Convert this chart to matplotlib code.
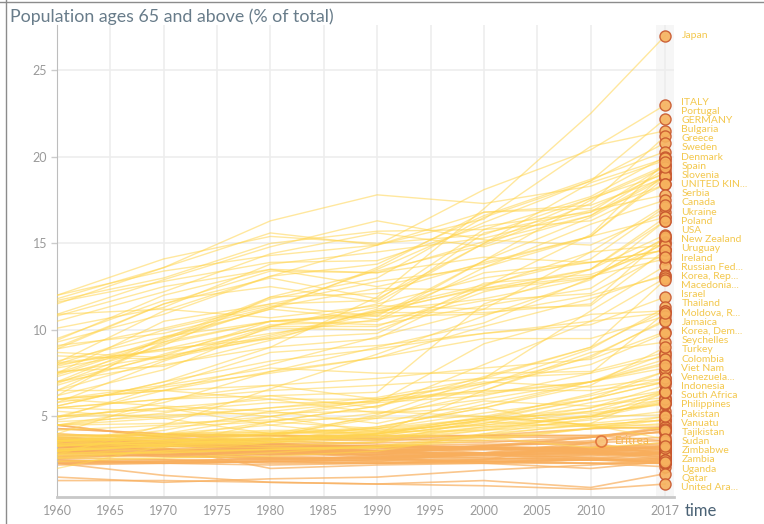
import matplotlib.pyplot as plt
from matplotlib.lines import Line2D

plt.rcParams['font.family'] = ['Lato', 'DejaVu Sans']

# share of population aged 65+ (% of total), read at these years
years = [1960, 1970, 1980, 1990, 2000, 2010, 2017]

countries = [
    "Japan", "Italy", "Portugal", "Germany", "Finland", "Bulgaria", "Greece",
    "Sweden", "Croatia", "Latvia", "Denmark", "France", "Spain", "Slovenia",
    "Estonia", "Austria", "Netherlands", "Belgium", "Czech Rep.", "Hungary",
    "United Kingdom", "Switzerland", "Serbia", "Lithuania", "Malta", "Romania",
    "Norway", "Canada", "Poland", "Ukraine", "Bosnia", "Montenegro",
    "Australia", "USA", "New Zealand", "Slovakia", "Uruguay", "Belarus",
    "Russian Fed.", "Iceland", "Cuba", "Georgia", "Korea, Rep.", "Ireland",
    "Luxembourg", "Macedonia", "Cyprus", "Puerto Rico", "Hong Kong", "Albania",
    "Barbados", "Singapore", "Israel", "Thailand", "Armenia", "Chile",
    "Argentina", "China", "Moldova", "Jamaica", "Korea, Dem.", "Trinidad",
    "Mauritius", "Lebanon", "Seychelles", "Sri Lanka", "Turkey", "Brazil",
    "Viet Nam", "Malaysia", "Venezuela", "Colombia", "Mexico", "Kazakhstan",
    "Azerbaijan", "Tunisia", "Morocco", "Indonesia", "India", "South Africa",
    "Philippines", "Peru", "Fiji", "Lesotho", "Vanuatu", "Myanmar", "Egypt",
    "Bangladesh", "Tajikistan", "Kyrgyzstan", "Uzbekistan", "Zimbabwe",
    "Haiti", "Bolivia", "Guatemala", "Honduras", "Pakistan", "Iran",
    "Algeria", "Nepal", "Cambodia", "Ghana", "Nigeria", "Ethiopia", "Kenya",
    "Tanzania", "Uganda", "Zambia", "Malawi", "Mali", "Niger", "Chad",
    "Sudan", "Somalia", "DR Congo", "Angola", "Mozambique", "Madagascar",
    "Cameroon", "Cote d'Ivoire", "Burkina Faso", "Senegal", "Guinea",
    "Rwanda", "Burundi", "Benin", "Togo", "Sierra Leone", "Liberia",
    "Central African Rep.", "Yemen", "Afghanistan", "Iraq", "Syria", "Jordan",
    "Papua New Guinea", "Laos", "Mongolia", "Namibia", "Botswana", "Gabon",
    "Congo", "Gambia", "Guinea-Bissau", "Mauritania", "Nicaragua",
    "El Salvador", "Dominican Rep.", "Paraguay", "Ecuador", "Costa Rica",
    "Panama", "Saudi Arabia", "Oman", "Kuwait", "Bahrain", "Qatar",
    "United Arab Emirates",
]

share_65 = [
    [5.6, 7.0, 9.0, 11.9, 17.0, 22.5, 27.0],
    [9.3, 10.9, 13.1, 14.9, 18.1, 20.4, 23.0],
    [7.9, 9.3, 11.3, 13.5, 16.2, 18.6, 22.2],
    [11.5, 13.6, 15.6, 14.9, 16.4, 20.6, 21.5],
    [7.3, 9.1, 11.9, 13.4, 14.9, 17.3, 21.2],
    [7.4, 9.4, 11.8, 13.0, 16.5, 18.6, 20.8],
    [8.1, 11.1, 13.1, 13.8, 16.6, 18.7, 20.3],
    [11.8, 13.6, 16.3, 17.8, 17.3, 18.3, 19.8],
    [7.5, 10.5, 11.5, 11.7, 15.8, 17.7, 20.0],
    [9.0, 11.5, 13.0, 11.8, 15.0, 18.5, 19.9],
    [10.5, 12.2, 14.4, 15.6, 14.8, 16.6, 19.3],
    [11.6, 12.8, 13.9, 14.0, 16.0, 16.8, 19.5],
    [8.2, 9.6, 11.2, 13.6, 16.8, 17.0, 19.1],
    [7.5, 9.5, 11.2, 10.6, 14.0, 16.5, 18.8],
    [9.5, 11.7, 12.5, 11.6, 15.0, 17.6, 19.5],
    [12.0, 14.1, 15.4, 15.0, 15.5, 17.6, 19.0],
    [8.9, 10.1, 11.5, 12.8, 13.6, 15.4, 18.8],
    [12.0, 13.4, 14.3, 14.9, 16.8, 17.2, 18.8],
    [9.4, 12.0, 13.5, 12.5, 13.8, 15.4, 19.0],
    [8.9, 11.5, 13.4, 13.3, 15.1, 16.6, 18.9],
    [11.7, 13.0, 15.0, 15.7, 15.8, 16.3, 18.4],
    [10.1, 11.3, 13.8, 14.5, 15.3, 16.8, 18.4],
    [6.5, 8.3, 10.2, 11.3, 15.6, 16.9, 17.8],
    [8.0, 10.0, 11.4, 10.8, 14.0, 17.5, 19.4],
    [7.8, 8.9, 9.5, 11.0, 12.5, 15.5, 19.7],
    [6.8, 8.6, 10.3, 10.5, 13.6, 16.1, 17.5],
    [10.9, 12.9, 14.8, 16.3, 15.2, 14.9, 16.8],
    [7.6, 7.9, 9.4, 11.2, 12.6, 14.1, 17.1],
    [5.8, 8.2, 10.1, 10.0, 12.2, 13.5, 16.3],
    [7.0, 9.5, 11.9, 12.1, 13.9, 15.4, 16.5],
    [4.5, 5.2, 6.2, 6.4, 11.5, 13.5, 16.5],
    [7.0, 8.5, 9.5, 9.8, 12.7, 13.2, 14.7],
    [8.5, 8.3, 9.6, 11.1, 12.4, 13.5, 15.5],
    [9.1, 9.8, 11.3, 12.4, 12.3, 13.0, 15.3],
    [8.7, 8.4, 9.7, 11.1, 11.8, 13.0, 15.3],
    [6.9, 9.2, 10.5, 10.3, 11.4, 12.4, 15.1],
    [8.0, 8.9, 10.2, 11.5, 13.0, 13.9, 14.6],
    [6.5, 9.3, 10.5, 10.9, 13.3, 13.9, 14.6],
    [6.2, 7.7, 10.2, 10.2, 12.4, 13.1, 14.1],
    [8.1, 8.8, 9.8, 10.6, 11.7, 12.1, 14.4],
    [4.8, 5.8, 7.6, 9.0, 10.4, 13.0, 15.0],
    [7.0, 8.0, 9.0, 9.5, 12.5, 14.5, 14.9],
    [3.0, 3.4, 3.8, 5.1, 7.2, 11.1, 13.7],
    [10.9, 11.2, 10.7, 11.4, 11.2, 11.4, 14.6],
    [10.8, 12.5, 13.5, 13.3, 14.2, 13.9, 14.2],
    [5.8, 6.7, 7.5, 8.4, 10.2, 11.8, 13.2],
    [6.2, 9.6, 10.5, 10.8, 10.9, 12.0, 13.1],
    [5.0, 6.5, 8.0, 9.6, 11.2, 14.5, 17.2],
    [2.8, 4.5, 6.6, 8.6, 10.8, 12.9, 16.3],
    [5.5, 6.0, 6.2, 5.5, 8.0, 10.5, 13.0],
    [7.5, 8.5, 10.5, 11.0, 11.0, 11.5, 15.4],
    [2.0, 3.3, 4.7, 5.6, 7.3, 9.0, 12.9],
    [4.9, 6.8, 8.7, 9.1, 9.8, 10.3, 11.9],
    [3.3, 3.6, 3.9, 4.9, 6.8, 8.9, 11.3],
    [5.5, 5.3, 5.8, 5.8, 9.2, 10.9, 11.1],
    [4.7, 5.0, 5.5, 6.1, 7.2, 9.0, 11.1],
    [5.6, 7.0, 8.2, 8.9, 9.8, 10.5, 11.0],
    [3.7, 3.8, 4.7, 5.6, 6.9, 8.4, 10.6],
    [6.0, 6.5, 7.6, 8.4, 9.5, 9.5, 10.8],
    [4.0, 6.0, 6.8, 7.2, 7.8, 8.3, 9.9],
    [3.0, 3.4, 3.7, 4.0, 6.5, 8.7, 9.3],
    [3.5, 4.2, 5.3, 5.9, 6.5, 8.5, 10.5],
    [3.0, 4.0, 5.0, 5.8, 6.2, 7.5, 11.0],
    [5.5, 6.0, 6.5, 6.8, 7.2, 7.5, 8.5],
    [6.0, 6.8, 7.8, 7.5, 7.5, 7.6, 8.7],
    [4.2, 4.5, 5.0, 6.0, 6.9, 8.0, 9.8],
    [3.5, 4.4, 4.7, 4.3, 5.7, 7.0, 8.1],
    [3.1, 3.5, 4.0, 4.4, 5.5, 7.0, 8.6],
    [4.5, 5.5, 6.0, 6.0, 6.5, 6.5, 7.0],
    [3.6, 3.7, 3.7, 3.8, 4.3, 5.0, 6.4],
    [2.8, 3.2, 3.5, 3.9, 4.6, 5.8, 6.5],
    [3.0, 3.3, 3.7, 4.2, 4.9, 6.3, 7.6],
    [3.4, 3.9, 4.0, 4.1, 4.9, 6.0, 7.0],
    [6.0, 6.5, 6.8, 6.0, 7.0, 6.7, 7.2],
    [6.0, 5.6, 5.3, 4.6, 5.9, 5.6, 6.1],
    [4.5, 4.9, 5.5, 5.9, 6.4, 7.0, 8.3],
    [3.8, 4.0, 4.1, 4.0, 4.8, 5.5, 6.8],
    [3.4, 3.4, 3.6, 4.0, 4.8, 5.0, 5.9],
    [3.1, 3.3, 3.6, 3.8, 4.4, 5.0, 6.0],
    [3.7, 3.6, 3.5, 3.5, 4.2, 4.8, 5.3],
    [2.9, 2.9, 3.1, 3.2, 3.6, 4.3, 4.8],
    [3.6, 3.6, 3.7, 4.0, 4.8, 6.0, 7.6],
    [2.6, 2.6, 2.7, 3.0, 4.0, 4.9, 5.8],
    [4.5, 4.6, 4.8, 4.9, 5.0, 4.5, 4.5],
    [4.5, 3.8, 3.4, 3.5, 3.5, 3.8, 4.3],
    [3.6, 3.8, 4.0, 4.3, 4.9, 5.2, 5.7],
    [3.9, 4.0, 4.2, 4.2, 4.5, 5.0, 5.1],
    [3.6, 3.3, 3.2, 3.2, 3.9, 4.6, 5.0],
    [5.0, 5.5, 4.5, 3.9, 3.8, 3.2, 3.5],
    [6.5, 6.5, 6.0, 5.2, 5.5, 4.4, 4.3],
    [5.0, 5.5, 5.0, 4.1, 4.7, 4.4, 4.3],
    [3.3, 3.1, 2.8, 2.8, 3.3, 3.5, 2.8],
    [3.8, 3.9, 4.1, 4.1, 4.2, 4.5, 4.8],
    [3.3, 3.6, 3.8, 4.0, 4.5, 5.3, 6.5],
    [2.4, 2.6, 2.9, 3.3, 4.0, 4.5, 4.8],
    [2.8, 2.9, 3.1, 3.3, 3.8, 4.3, 4.6],
    [3.9, 3.9, 3.9, 3.7, 3.9, 4.3, 4.4],
    [4.0, 3.7, 3.3, 3.5, 4.8, 5.3, 6.0],
    [5.3, 4.9, 4.0, 3.6, 4.4, 4.6, 6.4],
    [3.0, 3.3, 3.5, 3.7, 4.2, 5.1, 5.8],
    [2.7, 2.8, 2.8, 3.0, 3.2, 3.8, 4.4],
    [2.6, 2.8, 3.0, 3.0, 3.1, 3.3, 3.1],
    [3.0, 3.0, 3.0, 2.9, 2.8, 2.8, 2.7],
    [2.9, 2.9, 2.9, 2.9, 2.9, 3.1, 3.5],
    [3.7, 3.5, 3.2, 2.7, 2.6, 2.5, 2.3],
    [2.6, 2.5, 2.5, 2.7, 2.9, 3.1, 2.6],
    [3.1, 2.8, 2.7, 2.6, 2.4, 2.3, 2.1],
    [2.5, 2.3, 2.4, 2.3, 2.4, 2.5, 2.4],
    [2.9, 2.9, 2.8, 2.8, 2.8, 2.9, 2.7],
    [3.8, 3.5, 3.3, 3.3, 3.1, 3.0, 2.5],
    [2.5, 2.3, 2.2, 2.3, 2.5, 2.6, 2.6],
    [3.4, 3.3, 3.2, 3.0, 2.8, 2.5, 2.5],
    [3.2, 3.3, 3.4, 3.3, 3.2, 3.2, 3.4],
    [3.1, 3.1, 3.1, 3.0, 2.9, 2.9, 2.9],
    [3.2, 3.1, 2.9, 2.8, 2.7, 2.7, 3.0],
    [2.9, 2.7, 2.6, 2.5, 2.4, 2.3, 2.3],
    [3.2, 3.3, 3.3, 3.3, 3.2, 3.2, 2.9],
    [3.6, 3.4, 3.1, 2.9, 2.8, 2.8, 2.9],
    [3.5, 3.4, 3.4, 3.3, 3.2, 3.1, 3.2],
    [2.3, 2.4, 2.5, 2.6, 2.9, 3.0, 2.9],
    [3.3, 3.1, 3.0, 2.8, 2.6, 2.5, 2.4],
    [2.8, 2.7, 2.6, 2.6, 2.8, 2.9, 3.1],
    [3.0, 3.0, 3.1, 3.2, 3.3, 3.1, 3.0],
    [2.4, 2.5, 2.3, 2.3, 2.4, 2.5, 2.9],
    [3.8, 3.6, 3.4, 3.2, 2.9, 2.6, 2.3],
    [3.4, 3.1, 3.0, 3.0, 3.1, 3.0, 3.2],
    [3.3, 3.1, 3.0, 3.1, 3.2, 2.9, 2.8],
    [3.4, 3.3, 3.1, 3.0, 2.8, 2.6, 2.9],
    [3.0, 3.1, 3.2, 3.2, 3.2, 3.0, 3.1],
    [4.3, 4.0, 3.9, 3.9, 3.9, 3.9, 3.6],
    [3.4, 3.3, 3.1, 2.7, 2.5, 2.8, 2.9],
    [2.3, 2.3, 2.4, 2.3, 2.3, 2.5, 2.6],
    [3.6, 3.4, 3.3, 3.3, 3.2, 3.1, 3.3],
    [4.3, 4.0, 3.5, 3.0, 3.3, 3.8, 4.3],
    [3.5, 3.4, 3.2, 3.0, 3.3, 3.6, 3.8],
    [2.3, 2.4, 2.4, 2.5, 2.8, 3.2, 3.3],
    [3.6, 3.6, 3.7, 3.6, 3.8, 3.8, 4.1],
    [4.5, 3.8, 3.9, 3.8, 3.9, 3.9, 4.1],
    [3.6, 3.6, 3.7, 3.7, 3.6, 3.5, 3.6],
    [3.5, 3.0, 2.6, 2.4, 2.9, 3.5, 4.2],
    [5.0, 5.1, 5.2, 5.3, 5.0, 4.5, 3.7],
    [3.4, 3.3, 3.2, 3.3, 3.4, 3.4, 2.8],
    [2.4, 2.4, 2.6, 2.6, 2.3, 2.3, 2.3],
    [4.0, 3.7, 3.6, 3.4, 3.2, 2.9, 2.8],
    [2.7, 2.8, 2.9, 3.0, 3.1, 3.2, 3.2],
    [2.7, 3.0, 3.1, 3.2, 3.7, 4.3, 5.0],
    [3.3, 3.6, 4.0, 5.0, 6.3, 7.0, 7.8],
    [2.6, 3.0, 3.5, 4.0, 5.0, 6.2, 7.2],
    [3.4, 3.5, 3.7, 3.9, 4.6, 5.5, 6.4],
    [3.6, 3.8, 4.0, 4.3, 5.2, 6.0, 7.0],
    [3.3, 3.4, 3.6, 4.4, 5.5, 6.8, 9.0],
    [3.6, 4.0, 4.5, 5.2, 6.0, 7.0, 8.0],
    [3.7, 3.5, 3.0, 2.6, 2.9, 2.9, 3.3],
    [3.0, 2.8, 2.5, 2.4, 2.4, 2.5, 2.5],
    [1.5, 1.2, 1.4, 1.5, 1.9, 2.2, 2.5],
    [3.4, 3.2, 2.0, 2.2, 2.3, 2.0, 2.4],
    [1.3, 1.3, 1.2, 1.1, 1.3, 0.9, 1.7],
    [2.3, 1.6, 1.2, 1.1, 1.0, 0.8, 1.1],
]

# Eritrea's series stops in 2011
eritrea_years = [1960, 1970, 1980, 1990, 2000, 2010, 2011]
eritrea_share = [2.2, 2.3, 2.4, 2.5, 2.5, 3.5, 3.6]

# country -> label text shown next to its 2017 bubble
label_texts = {
    "Japan": "Japan", "Italy": "ITALY", "Portugal": "Portugal",
    "Germany": "GERMANY", "Bulgaria": "Bulgaria", "Greece": "Greece",
    "Sweden": "Sweden", "Spain": "Spain", "Denmark": "Denmark",
    "Slovenia": "Slovenia", "United Kingdom": "UNITED KIN...",
    "Serbia": "Serbia", "Canada": "Canada", "Ukraine": "Ukraine",
    "Poland": "Poland", "USA": "USA", "New Zealand": "New Zealand",
    "Uruguay": "Uruguay", "Ireland": "Ireland",
    "Russian Fed.": "Russian Fed...", "Korea, Rep.": "Korea, Rep...",
    "Macedonia": "Macedonia...", "Israel": "Israel", "Thailand": "Thailand",
    "Moldova": "Moldova, R...", "Jamaica": "Jamaica",
    "Korea, Dem.": "Korea, Dem...", "Seychelles": "Seychelles",
    "Turkey": "Turkey", "Colombia": "Colombia", "Viet Nam": "Viet Nam",
    "Venezuela": "Venezuela...", "Indonesia": "Indonesia",
    "South Africa": "South Africa", "Philippines": "Philippines",
    "Vanuatu": "Vanuatu", "Pakistan": "Pakistan",
    "Tajikistan": "Tajikistan", "Sudan": "Sudan", "Zimbabwe": "Zimbabwe",
    "Zambia": "Zambia", "Uganda": "Uganda", "Qatar": "Qatar",
    "United Arab Emirates": "United Ara...",
}

LINE_YELLOW = "#FFD54F"
LINE_ORANGE = "#F8AE5C"
BUBBLE_FILL = "#F7B25E"
BUBBLE_EDGE = "#C8572E"
LABEL_COLOR = "#F2C23A"


def spread_labels(values, gap, floor):
    # push labels apart so neighbours sit at least `gap` apart
    order = sorted(range(len(values)), key=lambda i: -values[i])
    pos = [0.0] * len(values)
    prev = None
    for i in order:
        y = values[i] if prev is None else min(values[i], prev - gap)
        pos[i] = y
        prev = y
    # if the stack runs off the bottom, lift it back up
    prev = None
    for i in reversed(order):
        y = max(pos[i], floor) if prev is None else max(pos[i], prev + gap)
        pos[i] = y
        prev = y
    return pos


def main():
    fig = plt.figure(figsize=(7.64, 5.24), dpi=100)
    ax = fig.add_axes([0.0746, 0.0515, 0.8075, 0.9005])

    ax.axvspan(2016.1, 2017.9, color="#F6F6F6", zorder=0, lw=0)

    for name, vals in zip(countries, share_65):
        low = max(vals) < 4.6
        color = LINE_ORANGE if low else LINE_YELLOW
        ax.plot(years, vals, color=color, lw=1.2 if low else 1.0,
                alpha=0.7 if low else 0.55, zorder=2 if low else 3,
                solid_capstyle="round")
    ax.plot(eritrea_years, eritrea_share, color=LINE_ORANGE, lw=1.2,
            alpha=0.7, zorder=2)

    last = [vals[-1] for vals in share_65]
    ax.plot([years[-1]] * len(last), last, "o", ms=8, mfc=BUBBLE_FILL,
            mec=BUBBLE_EDGE, mew=1.0, clip_on=False, zorder=5, alpha=0.9)
    ax.plot(eritrea_years[-1], eritrea_share[-1], "o", ms=8, mfc="#F9C27A",
            mec="#E0703A", mew=1.2, zorder=5, alpha=0.9)
    ax.text(eritrea_years[-1] + 1.3, eritrea_share[-1], "Eritrea",
            color="#F5B54A", fontsize=8.5, va="center", zorder=6)

    names = list(label_texts)
    values = [share_65[countries.index(n)][-1] for n in names]
    positions = spread_labels(values, 0.53, 0.9)
    for name, y in zip(names, positions):
        ax.text(years[-1] + 1.5, y, label_texts[name], color=LABEL_COLOR,
                fontsize=7.5, va="center", alpha=0.9, clip_on=False, zorder=6)

    ax.set_xlim(1960, 2017.8)
    ax.set_ylim(0.35, 27.6)
    ax.set_xticks([1960, 1965, 1970, 1975, 1980, 1985, 1990, 1995,
                   2000, 2005, 2010, 2017])
    ax.set_yticks([5, 10, 15, 20, 25])
    ax.grid(True, color="#EDEDED", lw=1.2, zorder=0)
    ax.set_axisbelow(True)

    ax.tick_params(axis="x", length=0, pad=6, labelsize=9,
                   labelcolor="#9A9A9A")
    ax.tick_params(axis="y", length=4, width=1, color="#CCCCCC", pad=3,
                   labelsize=9, labelcolor="#9A9A9A")
    for side in ["top", "right"]:
        ax.spines[side].set_visible(False)
    ax.spines["left"].set_color("#BDBDBD")
    ax.spines["bottom"].set_color("#C8C8C8")
    ax.spines["bottom"].set_linewidth(2)

    fig.text(10 / 764, 1 - 17 / 524, "Population ages 65 and above (% of total)",
             color="#687C8A", fontsize=12.8, va="center", ha="left")
    fig.text(685 / 764, 1 - 511 / 524, "time", color="#4A6275", fontsize=12,
             va="center", ha="left")

    fig.add_artist(Line2D([6 / 764, 6 / 764], [0, 1], color="#8C8C8C", lw=1))
    fig.add_artist(Line2D([0, 1], [1 - 2 / 524, 1 - 2 / 524], color="#8C8C8C",
                          lw=1))

    fig.savefig("out.png", dpi=100)
    plt.close(fig)


if __name__ == "__main__":
    main()
